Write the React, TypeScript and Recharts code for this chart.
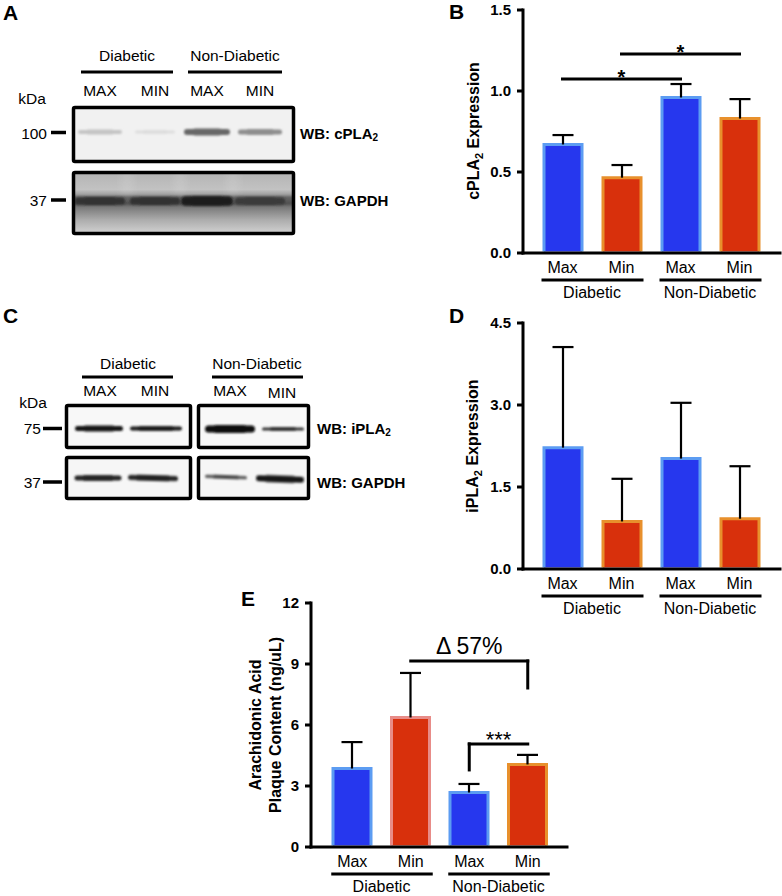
import React from "react";
import { BarChart, Bar, XAxis, YAxis, Cell, ReferenceLine } from "recharts";

const FONT = "'Liberation Sans', Arial, Helvetica, sans-serif";

// categories: diabetic max/min, non-diabetic max/min
const categories = ["dMax", "dMin", "nMax", "nMin"];
const tickLabels = ["Max", "Min", "Max", "Min"];
const groupLabels = ["Diabetic", "Non-Diabetic"];

// panel B - cPLA2 expression
const cplaMean = [0.67, 0.465, 0.96, 0.83];
const cplaSem = [0.058, 0.078, 0.083, 0.12];
const cplaTicks = [0, 0.5, 1.0, 1.5];
const cplaSigY = [1.074, 1.228];

// panel D - iPLA2 expression
const iplaMean = [2.22, 0.87, 2.02, 0.92];
const iplaSem = [1.84, 0.78, 1.02, 0.96];
const iplaTicks = [0, 1.5, 3.0, 4.5];

// panel E - arachidonic acid content
const aaMean = [3.86, 6.37, 2.68, 4.06];
const aaSem = [1.3, 2.19, 0.42, 0.47];
const aaTicks = [0, 3, 6, 9, 12];
const aaDeltaY = [9.15, 7.82];
const aaSigY = [5.07, 3.79];

// western blot band density per lane (0 = none, 1 = black)
const cplaBands = [0.2, 0.1, 0.58, 0.42];
const gapdhABands = [0.8, 0.8, 0.88, 0.76];
const iplaBands = [0.9, 0.88, 0.96, 0.78];
const gapdhCBands = [0.84, 0.86, 0.68, 0.9];

const BLUE = "#2637ee";
const BLUE_EDGE = "#5c9cf2";
const RED = "#d8300c";
const ORANGE_EDGE = "#e8902c";
const PINK_EDGE = "#e88c88";

const fills = [BLUE, RED, BLUE, RED];
const edgesBD = [BLUE_EDGE, ORANGE_EDGE, BLUE_EDGE, ORANGE_EDGE];
const edgesE = [BLUE_EDGE, PINK_EDGE, BLUE_EDGE, ORANGE_EDGE];

const OutlinedBar = (p: any) => {
  const { x, y, width, height, fill, stroke } = p;
  if (!height || height <= 0) return null;
  const h = height - 1.5;
  return (
    <g>
      <rect x={x} y={y} width={width} height={h} fill={fill} />
      <path
        d={`M${x},${y + h} L${x},${y} L${x + width},${y} L${x + width},${y + h}`}
        fill="none"
        stroke={stroke}
        strokeWidth={3}
      />
    </g>
  );
};

const ErrShape = (p: any) => {
  const { x, y, width, height } = p;
  const cx = x + width / 2;
  return (
    <g stroke="#000" strokeWidth={2.2} fill="none">
      <line x1={cx} y1={y + height} x2={cx} y2={y} />
      <line x1={cx - 10.5} y1={y} x2={cx + 10.5} y2={y} />
    </g>
  );
};

const makeTick = (band: number) => (props: any) => {
  const { x, y, payload } = props;
  const i = categories.indexOf(payload.value);
  return (
    <g>
      <text x={x} y={y + 20} textAnchor="middle" fontSize={16} fill="#000" fontFamily={FONT}>
        {tickLabels[i]}
      </text>
      {i % 2 === 0 && (
        <g>
          <line x1={x - 21} x2={x + band + 22} y1={y + 27} y2={y + 27} stroke="#000" strokeWidth={3} />
          <text x={x + band / 2} y={y + 45} textAnchor="middle" fontSize={16} fill="#000" fontFamily={FONT}>
            {groupLabels[i / 2]}
          </text>
        </g>
      )}
    </g>
  );
};

const textLabel = (text: string, dy: number, size: number, weight = "normal") => ({
  content: (p: any) => {
    const vb = p.viewBox || { x: 0, y: 0, width: 0, height: 0 };
    return (
      <text
        x={vb.x + vb.width / 2}
        y={vb.y + dy}
        textAnchor="middle"
        fontSize={size}
        fontWeight={weight}
        fill="#000"
        fontFamily={FONT}
      >
        {text}
      </text>
    );
  },
});

const YTick = (digits: number) => (props: any) => {
  const { x, y, payload } = props;
  return (
    <text x={x} y={y} dy={5} textAnchor="end" fontSize={15} fontWeight="bold" fill="#000" fontFamily={FONT}>
      {Number(payload.value).toFixed(digits)}
    </text>
  );
};

interface PanelProps {
  width: number;
  height: number;
  margin: { top: number; right: number; left: number; bottom: number };
  yWidth: number;
  xHeight: number;
  pad: { left: number; right: number };
  mean: number[];
  sem: number[];
  ticks: number[];
  digits: number;
  edges: string[];
  children?: React.ReactNode;
}

function BarPanel(props: PanelProps) {
  const { width, height, margin, yWidth, xHeight, pad, mean, sem, ticks, digits, edges } = props;
  const plotW = width - margin.left - margin.right - yWidth;
  const band = (plotW - pad.left - pad.right) / categories.length;
  const data = categories.map((key, i) => ({ key, mean: mean[i], sem: sem[i] }));
  const axisStyle = { stroke: "#000", strokeWidth: 3, strokeLinecap: "square" as const };
  return (
    <BarChart width={width} height={height} data={data} margin={margin} barCategoryGap={0}>
      <XAxis
        dataKey="key"
        type="category"
        interval={0}
        height={xHeight}
        padding={pad}
        tickLine={false}
        tickSize={0}
        tickMargin={0}
        axisLine={axisStyle}
        tick={makeTick(band)}
      />
      <YAxis
        width={yWidth}
        domain={[ticks[0], ticks[ticks.length - 1]]}
        ticks={ticks}
        interval={0}
        tickSize={6}
        tickMargin={6}
        tickLine={{ stroke: "#000", strokeWidth: 3 }}
        axisLine={axisStyle}
        tick={YTick(digits)}
      />
      <Bar dataKey="mean" stackId="s" barSize={38} shape={OutlinedBar} isAnimationActive={false}>
        {categories.map((c, i) => (
          <Cell key={c} fill={fills[i]} stroke={edges[i]} />
        ))}
      </Bar>
      <Bar dataKey="sem" stackId="s" barSize={38} shape={ErrShape} isAnimationActive={false} />
      {props.children}
    </BarChart>
  );
}

function Band({ cx, cy, w, h, level, tilt = 0 }: { cx: number; cy: number; w: number; h: number; level: number; tilt?: number }) {
  const v = Math.round(245 * (1 - level));
  const c = `rgb(${v},${v},${v})`;
  return (
    <g transform={`rotate(${tilt} ${cx} ${cy})`} filter="url(#soft)">
      <rect x={cx - w / 2} y={cy - h / 2} width={w} height={h} rx={h / 2} fill={c} />
      <rect x={cx - w / 2 + 8} y={cy - h / 2 - 0.5} width={w - 16} height={h + 1} rx={h / 2} fill={c} />
    </g>
  );
}

function Blots() {
  const txt = { fontFamily: FONT, fontSize: 15.5, fill: "#000" } as const;
  const bold = { fontFamily: FONT, fontSize: 15, fill: "#000", fontWeight: "bold" } as const;
  const lanesA = [100, 155, 207, 260];
  const lanesC = [99, 156, 230, 283];
  const lanesCg = [98, 153, 226, 280];
  return (
    <g>
      <defs>
        <filter id="soft" x="-20%" y="-200%" width="140%" height="500%">
          <feGaussianBlur stdDeviation="1.3" />
        </filter>
        <filter id="haze" x="-50%" y="-50%" width="200%" height="200%">
          <feGaussianBlur stdDeviation="5" />
        </filter>
        <linearGradient id="gapdhBg" x1="0" y1="0" x2="0" y2="1">
          <stop offset="0" stopColor="#b4b4b4" />
          <stop offset="0.28" stopColor="#c2c2c2" />
          <stop offset="0.4" stopColor="#8e8e8e" />
          <stop offset="0.5" stopColor="#646464" />
          <stop offset="0.62" stopColor="#868686" />
          <stop offset="0.78" stopColor="#adadad" />
          <stop offset="1" stopColor="#d2d2d2" />
        </linearGradient>
        <clipPath id="clipA1"><rect x={73.5} y={107.5} width={220} height={54} /></clipPath>
        <clipPath id="clipA2"><rect x={73.5} y={172.5} width={220} height={61} /></clipPath>
        <clipPath id="clipC1"><rect x={66.5} y={405.5} width={124} height={42} /></clipPath>
        <clipPath id="clipC2"><rect x={198.5} y={405.5} width={110} height={42} /></clipPath>
        <clipPath id="clipC3"><rect x={66.5} y={457.5} width={124} height={41} /></clipPath>
        <clipPath id="clipC4"><rect x={198.5} y={457.5} width={110} height={41} /></clipPath>
      </defs>

      {/* panel A */}
      <text x={3} y={20} fontFamily={FONT} fontSize={21} fontWeight="bold">A</text>
      <text x={127} y={55} textAnchor="middle" dominantBaseline="central" {...txt}>Diabetic</text>
      <text x={235} y={55} textAnchor="middle" dominantBaseline="central" {...txt}>Non-Diabetic</text>
      <line x1={81} x2={173} y1={72} y2={72} stroke="#000" strokeWidth={3} />
      <line x1={188} x2={282} y1={72} y2={72} stroke="#000" strokeWidth={3} />
      {["MAX", "MIN", "MAX", "MIN"].map((t, i) => (
        <text key={i} x={lanesA[i]} y={90} textAnchor="middle" dominantBaseline="central" {...txt}>{t}</text>
      ))}
      <text x={32} y={98} textAnchor="middle" dominantBaseline="central" {...txt}>kDa</text>
      <text x={47} y={133} textAnchor="end" dominantBaseline="central" {...txt}>100</text>
      <line x1={51} x2={66} y1={132.5} y2={132.5} stroke="#000" strokeWidth={3.5} />
      <text x={47} y={200} textAnchor="end" dominantBaseline="central" {...txt}>37</text>
      <line x1={51} x2={66} y1={200} y2={200} stroke="#000" strokeWidth={3.5} />

      <rect x={73.5} y={107.5} width={220} height={54} fill="#f1f1f1" />
      <g clipPath="url(#clipA1)">
        {cplaBands.map((lv, i) => (
          <Band key={i} cx={lanesA[i]} cy={132} w={[44, 40, 46, 44][i]} h={[4, 3, 6, 5][i]} level={lv} />
        ))}
      </g>
      <rect x={73.5} y={107.5} width={220} height={54} fill="none" stroke="#000" strokeWidth={3.5} rx={1.5} />

      <rect x={73.5} y={172.5} width={220} height={61} fill="url(#gapdhBg)" />
      <g clipPath="url(#clipA2)">
        {[127, 180, 233].map((gx) => (
          <rect key={gx} x={gx - 5} y={170} width={10} height={24} fill="#dedede" opacity={0.3} filter="url(#haze)" />
        ))}
        <rect x={70} y={196} width={230} height={9} fill="#404040" opacity={0.5} filter="url(#soft)" />
        {gapdhABands.map((lv, i) => (
          <Band key={i} cx={lanesA[i]} cy={201} w={[50, 50, 52, 50][i]} h={[7, 7, 9, 7][i]} level={lv} />
        ))}
      </g>
      <rect x={73.5} y={172.5} width={220} height={61} fill="none" stroke="#000" strokeWidth={3.5} rx={1.5} />

      <text x={300} y={133} dominantBaseline="central" {...bold}>
        WB: cPLA<tspan dy={4} fontSize={10}>2</tspan>
      </text>
      <text x={300} y={200} dominantBaseline="central" {...bold}>WB: GAPDH</text>

      {/* panel C */}
      <text x={3} y={323} fontFamily={FONT} fontSize={21} fontWeight="bold">C</text>
      <text x={128} y={363} textAnchor="middle" dominantBaseline="central" {...txt}>Diabetic</text>
      <text x={257} y={363} textAnchor="middle" dominantBaseline="central" {...txt}>Non-Diabetic</text>
      <line x1={82} x2={173} y1={377} y2={377} stroke="#000" strokeWidth={3} />
      <line x1={212} x2={303} y1={377} y2={377} stroke="#000" strokeWidth={3} />
      {["MAX", "MIN", "MAX", "MIN"].map((t, i) => (
        <text key={i} x={[100, 155, 230, 282][i]} y={i === 3 ? 392 : 390} textAnchor="middle" dominantBaseline="central" {...txt}>{t}</text>
      ))}
      <text x={33} y={402} textAnchor="middle" dominantBaseline="central" {...txt}>kDa</text>
      <text x={41} y={428} textAnchor="end" dominantBaseline="central" {...txt}>75</text>
      <line x1={43} x2={62} y1={428.5} y2={428.5} stroke="#000" strokeWidth={3.5} />
      <text x={41} y={482} textAnchor="end" dominantBaseline="central" {...txt}>37</text>
      <line x1={43} x2={62} y1={482} y2={482} stroke="#000" strokeWidth={3.5} />

      <rect x={66.5} y={405.5} width={124} height={42} fill="#f8f8f8" />
      <rect x={198.5} y={405.5} width={110} height={42} fill="#f8f8f8" />
      <rect x={66.5} y={457.5} width={124} height={41} fill="#f6f6f6" />
      <rect x={198.5} y={457.5} width={110} height={41} fill="#f6f6f6" />
      <g clipPath="url(#clipC1)">
        {[0, 1].map((i) => (
          <Band key={i} cx={lanesC[i]} cy={428.5} w={[48, 52][i]} h={[5, 4][i]} level={iplaBands[i]} />
        ))}
      </g>
      <g clipPath="url(#clipC2)">
        {[2, 3].map((i) => (
          <Band key={i} cx={lanesC[i]} cy={429} w={[50, 42][i - 2]} h={[7, 3][i - 2]} level={iplaBands[i]} />
        ))}
      </g>
      <g clipPath="url(#clipC3)">
        {[0, 1].map((i) => (
          <Band key={i} cx={lanesCg[i]} cy={478} w={[47, 50][i]} h={[5, 5][i]} level={gapdhCBands[i]} tilt={i === 1 ? 1.5 : 0} />
        ))}
      </g>
      <g clipPath="url(#clipC4)">
        {[2, 3].map((i) => (
          <Band key={i} cx={lanesCg[i]} cy={[477, 479][i - 2]} w={[42, 48][i - 2]} h={[3, 6][i - 2]} level={gapdhCBands[i]} tilt={2} />
        ))}
      </g>
      {[
        [66.5, 405.5, 124, 42],
        [198.5, 405.5, 110, 42],
        [66.5, 457.5, 124, 41],
        [198.5, 457.5, 110, 41],
      ].map(([x, y, w, h], i) => (
        <rect key={i} x={x} y={y} width={w} height={h} fill="none" stroke="#000" strokeWidth={3.5} rx={1.5} />
      ))}
      <text x={317} y={428} dominantBaseline="central" {...bold}>
        WB: iPLA<tspan dy={4} fontSize={10}>2</tspan>
      </text>
      <text x={317} y={482} dominantBaseline="central" {...bold}>WB: GAPDH</text>
    </g>
  );
}

function Titles() {
  const t = { fontFamily: FONT, fontSize: 16, fontWeight: "bold", fill: "#000", textAnchor: "middle" } as const;
  return (
    <g>
      <text x={449} y={19} fontFamily={FONT} fontSize={21} fontWeight="bold">B</text>
      <text x={449} y={323} fontFamily={FONT} fontSize={21} fontWeight="bold">D</text>
      <text x={241} y={606} fontFamily={FONT} fontSize={21} fontWeight="bold">E</text>
      <text transform="translate(479,131) rotate(-90)" {...t}>
        cPLA<tspan dy={4} fontSize={11}>2</tspan>
        <tspan dy={-4}> Expression</tspan>
      </text>
      <text transform="translate(478,446) rotate(-90)" {...t}>
        iPLA<tspan dy={4} fontSize={11}>2</tspan>
        <tspan dy={-4}> Expression</tspan>
      </text>
      <text transform="translate(261,725) rotate(-90)" {...t}>Arachidonic Acid</text>
      <text transform="translate(281,725) rotate(-90)" {...t}>Plaque Content (ng/uL)</text>
    </g>
  );
}

export default function App() {
  const lineProps = { stroke: "#000", strokeWidth: 3, strokeLinecap: "square" as const, ifOverflow: "visible" as const };
  return (
    <div
      style={{
        position: "absolute",
        left: 0,
        top: 0,
        width: 782,
        height: 896,
        background: "#fff",
        overflow: "hidden",
        fontFamily: FONT,
      }}
    >
      <svg width={782} height={896} style={{ position: "absolute", left: 0, top: 0 }}>
        <Blots />
        <Titles />
      </svg>

      <div style={{ position: "absolute", left: 400, top: 0 }}>
        <BarPanel
          width={382}
          height={320}
          margin={{ top: 10, right: 2, left: 63, bottom: 7 }}
          yWidth={60}
          xHeight={60}
          pad={{ left: 10, right: 11 }}
          mean={cplaMean}
          sem={cplaSem}
          ticks={cplaTicks}
          digits={1}
          edges={edgesBD}
        >
          <ReferenceLine
            segment={[{ x: "dMax", y: cplaSigY[0] }, { x: "nMax", y: cplaSigY[0] }]}
            {...lineProps}
            label={textLabel("*", 4.5, 20, "bold")}
          />
          <ReferenceLine
            segment={[{ x: "dMin", y: cplaSigY[1] }, { x: "nMin", y: cplaSigY[1] }]}
            {...lineProps}
            label={textLabel("*", 4.5, 20, "bold")}
          />
        </BarPanel>
      </div>

      <div style={{ position: "absolute", left: 400, top: 313 }}>
        <BarPanel
          width={382}
          height={323}
          margin={{ top: 10, right: 2, left: 63, bottom: 7 }}
          yWidth={60}
          xHeight={60}
          pad={{ left: 10, right: 11 }}
          mean={iplaMean}
          sem={iplaSem}
          ticks={iplaTicks}
          digits={1}
          edges={edgesBD}
        />
      </div>

      <div style={{ position: "absolute", left: 220, top: 593 }}>
        <BarPanel
          width={360}
          height={303}
          margin={{ top: 10, right: 13, left: 51, bottom: 0 }}
          yWidth={40}
          xHeight={49}
          pad={{ left: 12, right: 10 }}
          mean={aaMean}
          sem={aaSem}
          ticks={aaTicks}
          digits={0}
          edges={edgesE}
        >
          <ReferenceLine
            segment={[{ x: "dMin", y: aaDeltaY[0] }, { x: "nMin", y: aaDeltaY[0] }]}
            {...lineProps}
            label={textLabel("\u0394 57%", -7, 23)}
          />
          <ReferenceLine segment={[{ x: "nMin", y: aaDeltaY[0] }, { x: "nMin", y: aaDeltaY[1] }]} {...lineProps} />
          <ReferenceLine
            segment={[{ x: "nMax", y: aaSigY[0] }, { x: "nMin", y: aaSigY[0] }]}
            {...lineProps}
            label={textLabel("***", 3.5, 22)}
          />
          <ReferenceLine segment={[{ x: "nMax", y: aaSigY[0] }, { x: "nMax", y: aaSigY[1] }]} {...lineProps} />
        </BarPanel>
      </div>
    </div>
  );
}
